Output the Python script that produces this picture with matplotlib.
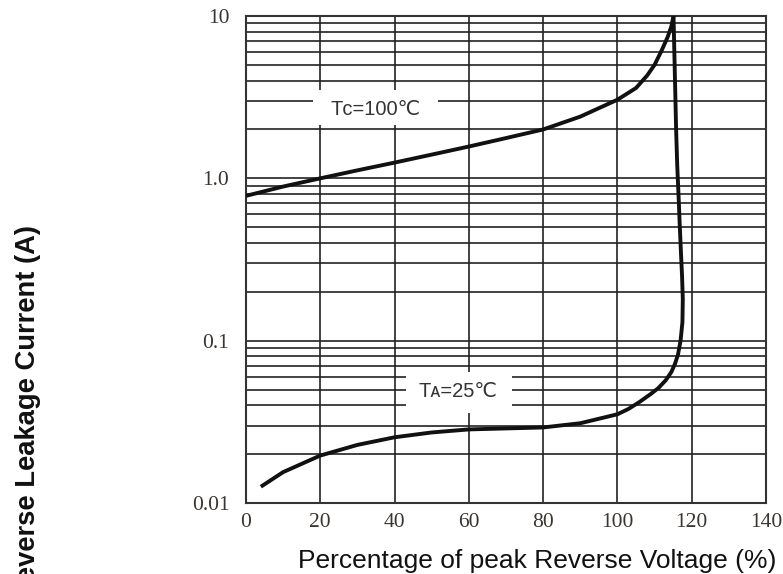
import matplotlib
matplotlib.use("Agg")
import matplotlib.pyplot as plt
from matplotlib.patches import Rectangle
from matplotlib.ticker import FixedLocator, NullFormatter

# ---- data ----
x_25 = [4, 10, 20, 30, 40, 50, 60, 70, 80, 90, 100, 103, 106, 109, 111, 113,
        114.5, 115.5, 116.3, 117.0, 117.5, 117.6, 117.4, 117.1, 116.8, 116.5,
        116.1, 115.8, 115.5, 115.1]
y_25 = [0.0126, 0.0155, 0.0196, 0.0228, 0.0254, 0.0272, 0.0284, 0.0288,
        0.0292, 0.031, 0.0352, 0.038, 0.042, 0.047, 0.051, 0.057,
        0.064, 0.072, 0.082, 0.1, 0.13, 0.18, 0.25, 0.35, 0.5, 0.74,
        1.2, 2.0, 4.0, 10.0]
x_100 = [0, 10, 20, 30, 40, 50, 60, 70, 80, 90, 100, 105, 108, 110, 112, 113.5,
         114.5, 115.1]
y_100 = [0.78, 0.89, 1.0, 1.12, 1.25, 1.4, 1.57, 1.77, 2.0, 2.4, 3.05, 3.6,
         4.3, 5.0, 6.2, 7.4, 8.6, 10.0]
x_ticks = [0, 20, 40, 60, 80, 100, 120, 140]
y_ticks = [0.01, 0.1, 1.0, 10]
y_tick_labels = ["0.01", "0.1", "1.0", "10"]
label_100 = "Tᴄ=100℃"
label_25 = "Tᴀ=25℃"
x_title = "Percentage of peak Reverse Voltage (%)"
y_title = "Reverse Leakage Current (A)"

fig = plt.figure(figsize=(7.83, 5.74), dpi=100)
W, H = 783, 574
L, R, T, B = 246, 766, 16, 503
ax = fig.add_axes([L / W, 1 - B / H, (R - L) / W, (B - T) / H])

ax.set_yscale("log")
ax.set_xlim(0, 140)
ax.set_ylim(0.01, 10)

ax.set_xticks(x_ticks)
ax.set_xticklabels([str(v) for v in x_ticks])
ax.set_yticks(y_ticks)
ax.set_yticklabels(y_tick_labels)
minor = [m * 10.0 ** e for e in (-2, -1, 0) for m in range(2, 10)]
ax.yaxis.set_minor_locator(FixedLocator(minor))
ax.yaxis.set_minor_formatter(NullFormatter())

ax.tick_params(axis="both", which="both", length=0)
ax.tick_params(axis="x", pad=7)
ax.tick_params(axis="y", pad=12)
for lab in ax.get_xticklabels() + ax.get_yticklabels():
    lab.set_fontfamily("Liberation Serif")
    lab.set_fontsize(15.5)
    lab.set_color("#3a3530")

ax.grid(True, which="both", axis="y", color="#222222", linewidth=1.2, zorder=1)
ax.grid(True, which="major", axis="x", color="#222222", linewidth=1.2, zorder=1)
ax.set_axisbelow(True)
for s in ax.spines.values():
    s.set_color("#333333")
    s.set_linewidth(1.5)

# white label boxes (axes fraction)
ax.add_patch(Rectangle((0.129, 0.776), 0.240, 0.072, transform=ax.transAxes,
                       facecolor="white", edgecolor="none", zorder=1.5))
ax.add_patch(Rectangle((0.307, 0.185), 0.205, 0.084, transform=ax.transAxes,
                       facecolor="white", edgecolor="none", zorder=1.5))

ax.plot(x_25, y_25, color="#111111", linewidth=2.8, solid_capstyle="butt", zorder=3)
ax.plot(x_100, y_100, color="#111111", linewidth=2.8, solid_capstyle="butt", zorder=3)

fam = ["Liberation Sans", "DejaVu Sans"]
ax.text(0.250, 0.808, label_100, transform=ax.transAxes, ha="center", va="center",
        fontsize=14.5, family=fam, color="#333333", zorder=4)
ax.text(0.408, 0.228, label_25, transform=ax.transAxes, ha="center", va="center",
        fontsize=14.5, family=fam, color="#333333", zorder=4)

fig.text(537.5 / W, 1 - 568 / H, x_title, ha="center", va="baseline",
         fontsize=19, family=fam, color="#111111")
fig.text(28 / W, 1 - 225 / H, y_title, ha="center", va="top", rotation=90,
         fontsize=19.7, family=fam, fontweight="bold", color="#111111")

fig.savefig("out.png", dpi=100)
